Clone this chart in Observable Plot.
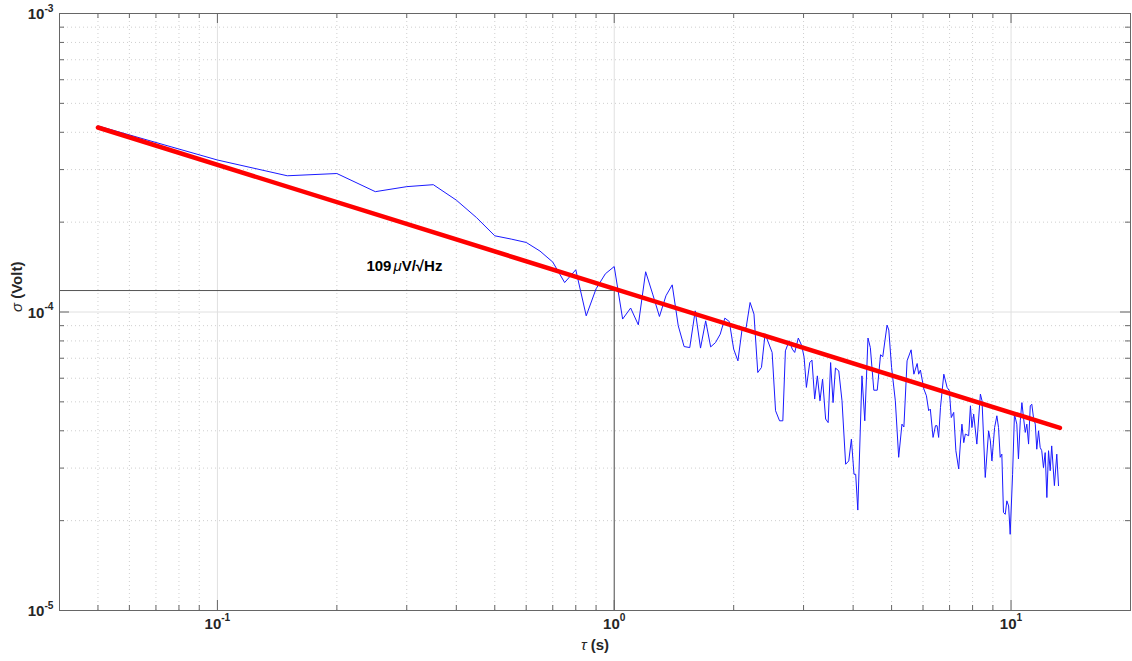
<!DOCTYPE html>
<html><head><meta charset="utf-8">
<script src="https://cdn.jsdelivr.net/npm/d3@7"></script>
<script src="https://cdn.jsdelivr.net/npm/@observablehq/plot@0.6"></script>
<style>body{margin:0;background:#fff} svg{display:block}</style>
</head><body><div id="chart"></div>
<script>
// ---- data ----
const tau = [0.05,0.10,0.15,0.20,0.25,0.30,0.35,0.40,0.45,0.50,0.55,0.60,0.65,0.70,0.75,0.80,0.85,0.90,0.95,1.00,
 1.05,1.10,1.15,1.20,1.25,1.30,1.35,1.40,1.45,1.50,1.55,1.60,1.65,1.70,1.75,1.80,1.85,1.90,1.95,2.00,
 2.05,2.10,2.15,2.20,2.25,2.30,2.35,2.40,2.50,2.55,2.61,2.66,2.70,2.76,2.81,2.85,2.91,2.97,3.01,3.05,
 3.11,3.15,3.20,3.25,3.30,3.35,3.41,3.46,3.51,3.56,3.61,3.68,3.75,3.83,3.90,3.96,4.02,4.06,4.11,4.21,
 4.28,4.36,4.42,4.51,4.60,4.69,4.75,4.87,4.92,5.00,5.11,5.21,5.31,5.37,5.47,5.60,5.69,5.80,5.85,5.91,
 6.03,6.12,6.20,6.26,6.36,6.45,6.51,6.57,6.64,6.77,6.90,6.99,7.07,7.17,7.26,7.38,7.45,7.52,7.60,7.67,
 7.82,7.90,7.97,8.05,8.20,8.37,8.45,8.61,8.78,8.87,8.95,9.09,9.21,9.30,9.39,9.48,9.57,9.67,9.76,9.86,
 9.95,10.09,10.20,10.34,10.44,10.55,10.65,10.75,10.86,10.96,11.07,11.18,11.28,11.39,11.51,11.61,11.73,11.84,11.95,12.07,
 12.19,12.31,12.43,12.55,12.66,12.86,13.04,13.17];
const sigma = [4.20e-4,3.23e-4,2.86e-4,2.91e-4,2.53e-4,2.63e-4,2.67e-4,2.37e-4,2.07e-4,1.80e-4,1.755e-4,1.71e-4,1.60e-4,1.47e-4,1.255e-4,1.385e-4,0.971e-4,1.196e-4,1.343e-4,1.42e-4,
 0.947e-4,1.031e-4,0.906e-4,1.364e-4,1.148e-4,0.966e-4,1.133e-4,1.233e-4,0.899e-4,0.766e-4,0.760e-4,1.009e-4,0.757e-4,0.934e-4,0.764e-4,0.790e-4,0.843e-4,0.954e-4,0.929e-4,0.751e-4,
 0.686e-4,0.876e-4,0.887e-4,1.076e-4,0.984e-4,0.627e-4,0.652e-4,0.845e-4,0.732e-4,0.467e-4,0.432e-4,0.432e-4,0.741e-4,0.801e-4,0.751e-4,0.732e-4,0.818e-4,0.770e-4,0.704e-4,0.559e-4,
 0.677e-4,0.690e-4,0.511e-4,0.611e-4,0.504e-4,0.596e-4,0.438e-4,0.426e-4,0.677e-4,0.497e-4,0.649e-4,0.635e-4,0.504e-4,0.309e-4,0.317e-4,0.375e-4,0.286e-4,0.286e-4,0.217e-4,0.611e-4,
 0.432e-4,0.818e-4,0.760e-4,0.547e-4,0.547e-4,0.719e-4,0.708e-4,0.904e-4,0.870e-4,0.652e-4,0.504e-4,0.326e-4,0.421e-4,0.412e-4,0.686e-4,0.747e-4,0.619e-4,0.672e-4,0.619e-4,0.639e-4,
 0.552e-4,0.524e-4,0.467e-4,0.473e-4,0.380e-4,0.416e-4,0.416e-4,0.380e-4,0.479e-4,0.619e-4,0.559e-4,0.545e-4,0.443e-4,0.461e-4,0.343e-4,0.298e-4,0.361e-4,0.421e-4,0.365e-4,0.390e-4,
 0.385e-4,0.485e-4,0.410e-4,0.455e-4,0.361e-4,0.531e-4,0.504e-4,0.279e-4,0.400e-4,0.370e-4,0.317e-4,0.410e-4,0.449e-4,0.410e-4,0.326e-4,0.334e-4,0.213e-4,0.210e-4,0.233e-4,0.224e-4,
 0.180e-4,0.286e-4,0.455e-4,0.421e-4,0.322e-4,0.432e-4,0.497e-4,0.443e-4,0.395e-4,0.421e-4,0.361e-4,0.485e-4,0.491e-4,0.443e-4,0.421e-4,0.347e-4,0.400e-4,0.352e-4,0.343e-4,0.301e-4,
 0.338e-4,0.239e-4,0.343e-4,0.294e-4,0.356e-4,0.262e-4,0.334e-4,0.262e-4];

const fitTau = [0.05, 13.28];
const fitSigma = [4.15e-4, 0.409e-4];

const markTau = [1];
const markSigma = [1.18e-4];

const annotation = ["109μV/√Hz"];
const annotationTau = [0.296];
const annotationSigma = [1.42e-4];

const majorX = [0.1, 1, 10];
const majorXLabels = ["10^{-1}", "10^{0}", "10^{1}"];
const minorX = [0.05,0.06,0.07,0.08,0.09,0.2,0.3,0.4,0.5,0.6,0.7,0.8,0.9,2,3,4,5,6,7,8,9];
const majorY = [1e-5, 1e-4, 1e-3];
const majorYLabels = ["10^{-5}", "10^{-4}", "10^{-3}"];
const minorY = [2e-5,3e-5,4e-5,5e-5,6e-5,7e-5,8e-5,9e-5,2e-4,3e-4,4e-4,5e-4,6e-4,7e-4,8e-4,9e-4];

const xLabel = "τ (s)";
const yLabel = "σ (Volt)";

// ---- layout ----
const W = 1132, H = 661, mt = 13, mb = 51, ml = 59, mr = 2;
const fw = W - ml - mr, fh = H - mt - mb;
const axisColor = "#666";

const blue = tau.map((t, i) => ({t, s: sigma[i]}));
const fit = fitTau.map((t, i) => ({t, s: fitSigma[i]}));

const svg = Plot.plot({
  width: W, height: H,
  marginTop: mt, marginBottom: mb, marginLeft: ml, marginRight: mr,
  x: {type: "log", domain: [0.04, 20], axis: null},
  y: {type: "log", domain: [1e-5, 1e-3], axis: null},
  style: {fontFamily: "'Liberation Sans', Arial, Helvetica, sans-serif", background: "#fff", color: "#262626"},
  marks: [
    // grid
    Plot.ruleX(minorX, {stroke: "#cfcfcf", strokeDasharray: "1,3", strokeWidth: 1}),
    Plot.ruleY(minorY, {stroke: "#cfcfcf", strokeDasharray: "1,3", strokeWidth: 1}),
    Plot.ruleX(majorX, {stroke: "#e0e0e0", strokeWidth: 1}),
    Plot.ruleY(majorY, {stroke: "#e0e0e0", strokeWidth: 1}),
    // marker lines
    Plot.ruleY(markSigma, {x1: 0.04, x2: markTau[0], stroke: "#555", strokeWidth: 1}),
    Plot.ruleX(markTau, {y1: 1e-5, y2: markSigma[0], stroke: "#555", strokeWidth: 1}),
    // data
    Plot.line(blue, {x: "t", y: "s", stroke: "#1a1aff", strokeWidth: 1}),
    Plot.line(fit, {x: "t", y: "s", stroke: "#ff0000", strokeWidth: 4.5}),
    // annotation
    Plot.text(annotation, {x: annotationTau, y: annotationSigma, fontSize: 15, fontWeight: "bold", fill: "#000"}),
    // frame and ticks
    Plot.frame({stroke: axisColor, strokeWidth: 1}),
    Plot.ruleX(majorX, {insetTop: fh - 10, stroke: axisColor}),
    Plot.ruleX(majorX, {insetBottom: fh - 10, stroke: axisColor}),
    Plot.ruleX(minorX, {insetTop: fh - 5, stroke: axisColor}),
    Plot.ruleX(minorX, {insetBottom: fh - 5, stroke: axisColor}),
    Plot.ruleY(majorY, {insetRight: fw - 10, stroke: axisColor}),
    Plot.ruleY(majorY, {insetLeft: fw - 10, stroke: axisColor}),
    Plot.ruleY(minorY, {insetRight: fw - 5, stroke: axisColor}),
    Plot.ruleY(minorY, {insetLeft: fw - 5, stroke: axisColor}),
    // tick labels
    Plot.text(majorXLabels, {x: majorX, frameAnchor: "bottom", dy: 18, fontSize: 15, fontWeight: "bold", fill: "#262626"}),
    Plot.text(majorYLabels, {y: majorY, frameAnchor: "left", textAnchor: "end", dx: -6, dy: 1, fontSize: 15, fontWeight: "bold", fill: "#262626"}),
    // axis labels
    Plot.text([xLabel], {frameAnchor: "bottom", dy: 39, fontSize: 15, fontWeight: "bold", fill: "#262626"}),
    Plot.text([yLabel], {frameAnchor: "left", dx: -42, rotate: -90, fontSize: 15, fontWeight: "bold", fill: "#262626"})
  ]
});

// rich text: superscripts ^{..} and italic Greek letters
const NS = "http://www.w3.org/2000/svg";
svg.querySelectorAll("text").forEach(el => {
  const s = el.textContent;
  if (!/[\^στμ]/.test(s)) return;
  el.textContent = "";
  const re = /\^\{([^}]*)\}|([στμ])|([^\^στμ]+)/g;
  let m;
  while ((m = re.exec(s))) {
    const t = document.createElementNS(NS, "tspan");
    if (m[1] !== undefined) {
      t.textContent = m[1];
      t.setAttribute("font-size", "0.68em");
      t.setAttribute("dy", "-0.75em");
    } else if (m[2]) {
      t.textContent = m[2];
      t.setAttribute("font-style", "italic");
      t.setAttribute("font-weight", "normal");
      if (m[2] === "μ") { t.setAttribute("dx", "2"); }
    } else {
      t.textContent = m[3];
    }
    el.appendChild(t);
  }
});

document.getElementById("chart").appendChild(svg);
</script>
</body></html>
